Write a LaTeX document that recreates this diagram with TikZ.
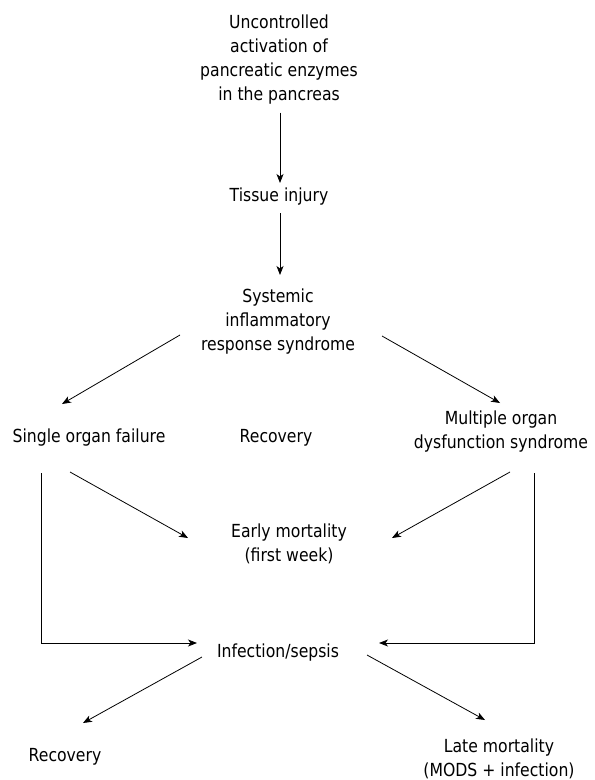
\documentclass[tikz,border=0pt]{standalone}
\usepackage{fontspec}
\setmainfont{DejaVu Sans}[FakeStretch=0.87]
\usetikzlibrary{arrows.meta}
\tikzset{
  lbl/.style={inner sep=0pt, align=center, font=\fontsize{18bp}{24bp}\selectfont},
  arr/.style={draw=black, line width=0.8bp, -{Stealth[length=9bp,width=7bp,inset=2.5bp]}}
}
\begin{document}
\begin{tikzpicture}[x=1bp,y=-1bp]
\useasboundingbox (0,0) rectangle (595,780);
\node[lbl] (top) at (279,59.5) {Uncontrolled\\activation of\\pancreatic enzymes\\in the pancreas};
\node[lbl] (tissue) at (279,197) {Tissue injury};
\node[lbl] (sirs) at (278,322) {Systemic\\inflammatory\\response syndrome};
\node[lbl] (sof) at (89,438) {Single organ failure};
\node[lbl] (rec1) at (276,438) {Recovery};
\node[lbl] (mods) at (501,431.5) {Multiple organ\\dysfunction syndrome};
\node[lbl] (early) at (289,543.5) {Early mortality\\(first week)};
\node[lbl] (inf) at (278,653) {Infection/sepsis};
\node[lbl] (rec2) at (65,757) {Recovery};
\node[lbl] (late) at (499,759) {Late mortality\\(MODS + infection)};

\draw[arr] ([shift={(1,53)}]top.center) -- ([shift={(1,-14)}]tissue.center);
\draw[arr] ([shift={(1,16)}]tissue.center) -- ([shift={(2,-47)}]sirs.center);
\draw[arr] ([shift={(-98,13)}]sirs.center) -- ([shift={(-27,-34)}]sof.center);
\draw[arr] ([shift={(104,14)}]sirs.center) -- ([shift={(-1,-28.5)}]mods.center);
\draw[arr] ([shift={(-19,34)}]sof.center) -- ([shift={(-101,-5.5)}]early.center);
\draw[arr] ([shift={(9,40.5)}]mods.center) -- ([shift={(103,-5.5)}]early.center);
\draw[arr] ([shift={(-48,35)}]sof.center) |- ([shift={(-81,-10)}]inf.center);
\draw[arr] ([shift={(33,41.5)}]mods.center) |- ([shift={(101,-10)}]inf.center);
\draw[arr] ([shift={(-76,4)}]inf.center) -- ([shift={(18,-34)}]rec2.center);
\draw[arr] ([shift={(89,2)}]inf.center) -- ([shift={(-14,-39)}]late.center);
\end{tikzpicture}
\end{document}
